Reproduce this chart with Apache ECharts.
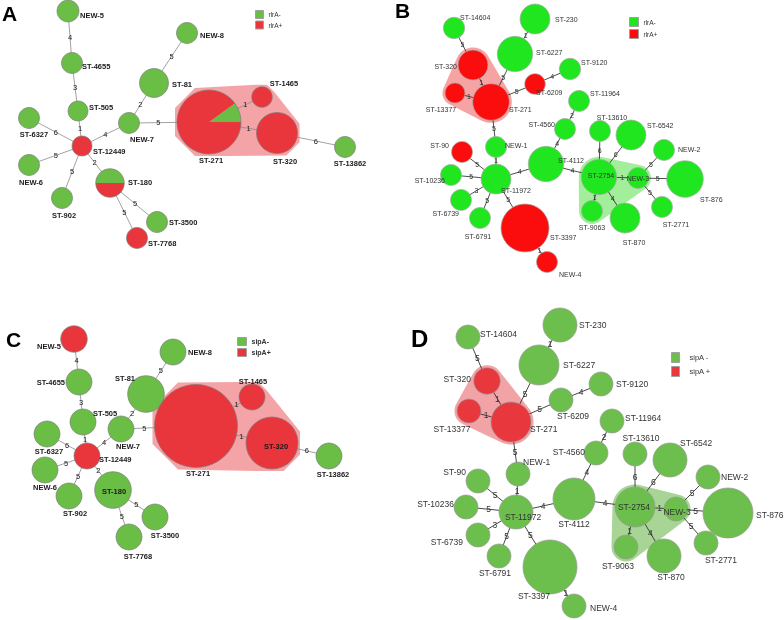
<!DOCTYPE html>
<html>
<head>
<meta charset="UTF-8">
<title>MST rlrA / sipA</title>
<style>
  html,body{margin:0;padding:0;background:#fff;}
  #chart{width:784px;height:620px;opacity:0.999;will-change:transform;}
</style>
</head>
<body>
<div id="chart"></div>
<script src="https://cdn.jsdelivr.net/npm/echarts@6.0.0/dist/echarts.min.js"></script>
<script>
// ---- data ----
// sequence types of the first tree (panels A, C)
var namesAC = ['NEW-5','ST-4655','ST-505','ST-12449','ST-6327','NEW-6','ST-902','ST-180','ST-3500',
  'ST-7768','NEW-7','ST-81','NEW-8','ST-271','ST-1465','ST-320','ST-13862'];
// share of positive isolates per ST
var rlrAShareA = [0,0,0,1,0,0,0,0.5,0,1,0,0,0,0.9,1,1,0];
var sipAShareC = [1,0,0,1,0,0,0,0,0,0,0,0,0,1,1,1,0];
// [from, to, allele differences]
var edgesAC = [['NEW-5','ST-4655',4],['ST-4655','ST-505',3],['ST-505','ST-12449',1],['ST-12449','ST-6327',6],
  ['ST-12449','NEW-6',5],['ST-12449','ST-902',5],['ST-12449','ST-180',2],['ST-180','ST-3500',5],
  ['ST-180','ST-7768',5],['ST-12449','NEW-7',4],['NEW-7','ST-81',2],['ST-81','NEW-8',5],
  ['NEW-7','ST-271',5],['ST-271','ST-1465',1],['ST-271','ST-320',1],['ST-320','ST-13862',6]];
var ccAC = [['ST-271','ST-1465','ST-320']];

// second tree (panels B, D)
var namesBD = ['ST-14604','ST-320','ST-13377','ST-271','ST-6227','ST-230','ST-6209','ST-9120','ST-11964',
  'ST-4560','ST-4112','NEW-1','ST-11972','ST-90','ST-10236','ST-6739','ST-6791','ST-3397','NEW-4',
  'ST-2754','ST-13610','ST-6542','NEW-3','NEW-2','ST-876','ST-2771','ST-9063','ST-870'];
var rlrAShareB = [0,1,1,1,0,0,1,0,0,0,0,0,0,1,0,0,0,1,1,0,0,0,0,0,0,0,0,0];
var sipAShareD = [0,1,1,1,0,0,0,0,0,0,0,0,0,0,0,0,0,0,0,0,0,0,0,0,0,0,0,0];
var edgesBD = [['ST-14604','ST-320',5],['ST-320','ST-271',1],['ST-13377','ST-271',1],['ST-271','ST-6227',5],
  ['ST-6227','ST-230',1],['ST-271','ST-6209',5],['ST-6209','ST-9120',4],['ST-271','NEW-1',5],
  ['NEW-1','ST-11972',1],['ST-90','ST-11972',5],['ST-10236','ST-11972',5],['ST-6739','ST-11972',3],
  ['ST-6791','ST-11972',5],['ST-11972','ST-3397',5],['ST-3397','NEW-4',1],['ST-11972','ST-4112',4],
  ['ST-4112','ST-4560',4],['ST-4560','ST-11964',2],['ST-4112','ST-2754',4],['ST-2754','ST-13610',6],
  ['ST-2754','ST-6542',6],['ST-2754','NEW-3',1],['ST-2754','ST-9063',1],['ST-2754','ST-870',4],
  ['NEW-3','NEW-2',5],['NEW-3','ST-876',5],['NEW-3','ST-2771',5]];
var ccBD = [['ST-320','ST-13377','ST-271'],['ST-2754','NEW-3','ST-9063']];

var legendRlrA = ['rlrA-','rlrA+'];
var legendSipAC = ['sipA-','sipA+'];
var legendSipAD = ['sipA -','sipA +'];

// ---- layout: [x, y, radius, label dx, label dy, align] ----
var layoutA = {
  'NEW-5':[68,11,11,12,4,'l'], 'ST-4655':[72,63,10.5,10,3,'l'], 'ST-505':[78,111,10,11,-4,'l'],
  'ST-12449':[82,146,10,11,5,'l'], 'ST-6327':[29,118,10.5,5,16,'c'], 'NEW-6':[29,165,10.5,2,17,'c'],
  'ST-902':[62,198,10.5,2,17,'c'], 'ST-180':[110,183,14.3,18,-1,'l'], 'ST-3500':[157,222,10.5,12,0,'l'],
  'ST-7768':[137,238,10.5,11,5,'l'], 'NEW-7':[129,123,10.5,13,16,'c'], 'ST-81':[154,83,14.5,18,1,'l'],
  'NEW-8':[187,33,10.5,13,2,'l'], 'ST-271':[209,122,32,2,38,'c'], 'ST-1465':[262,97,10.3,22,-14,'c'],
  'ST-320':[277,133,20.5,8,28,'c'], 'ST-13862':[345,147,10.5,5,16,'c']
};
var layoutC = {
  'NEW-5':[74,339,13.3,-13,7,'r'], 'ST-4655':[79,382,13,-14,0,'r'], 'ST-505':[83,422,13,10,-9,'l'],
  'ST-12449':[87,456,13,12,3,'l'], 'ST-6327':[47,434,13,2,17,'c'], 'NEW-6':[45,470,13,0,17,'c'],
  'ST-902':[69,496,13,6,17,'c'], 'ST-180':[113,490,18.3,1,1,'c'], 'ST-3500':[155,517,13,10,18,'c'],
  'ST-7768':[129,537,13,9,19,'c'], 'NEW-7':[121,429,13,7,17,'c'], 'ST-81':[146,394,18.3,-21,-16,'c'],
  'NEW-8':[173,352,13,15,0,'l'], 'ST-271':[196,426,41.5,2,47,'c'], 'ST-1465':[252,397,13,1,-16,'c'],
  'ST-320':[272,443,26,4,3,'c'], 'ST-13862':[329,456,13,4,18,'c']
};
var layoutB = {
  'ST-14604':[454,28,10.7,6,-11,'l'], 'ST-320':[473,65,15,-16,1,'r'], 'ST-13377':[455,93,10,-14,16,'c'],
  'ST-271':[491,102,18.3,18,7,'l'], 'ST-6227':[515,54,17.7,21,-2,'l'], 'ST-230':[535,19,15,20,0,'l'],
  'ST-6209':[535,84,10.3,1,8,'l'], 'ST-9120':[570,69,10.7,11,-7,'l'], 'ST-11964':[579,101,10.5,11,-8,'l'],
  'ST-4560':[565,129,10.5,-10,-5,'r'], 'ST-4112':[546,164,17.7,12,-4,'l'], 'NEW-1':[496,147,10.5,9,-2,'l'],
  'ST-11972':[496,179,15,5,11,'l'], 'ST-90':[462,152,10.5,-13,-7,'r'], 'ST-10236':[451,175,10.5,-6,5,'r'],
  'ST-6739':[461,200,10.5,-2,13,'r'], 'ST-6791':[480,218,10.5,-2,18,'c'], 'ST-3397':[525,228,24,25,9,'l'],
  'NEW-4':[547,262,10.5,12,12,'l'], 'ST-2754':[599,177,17.7,2,-2,'c'], 'ST-13610':[600,131,10.5,12,-14,'c'],
  'ST-6542':[631,135,15,16,-10,'l'], 'NEW-3':[638,178,10.5,0,0,'c'], 'NEW-2':[664,150,10.5,14,-1,'l'],
  'ST-876':[685,179,18.3,15,20,'l'], 'ST-2771':[662,207,10.5,14,17,'c'], 'ST-9063':[592,211,10.5,0,16,'c'],
  'ST-870':[625,218,15,9,24,'c']
};
var layoutD = {
  'ST-14604':[468,337,12,12,-3,'l'], 'ST-320':[487,381,13.3,-16,-2,'r'], 'ST-13377':[469,411,12,-17,18,'c'],
  'ST-271':[511,422,20,19,7,'l'], 'ST-6227':[539,365,20,24,0,'l'], 'ST-230':[560,325,17,19,0,'l'],
  'ST-6209':[561,400,12,12,16,'c'], 'ST-9120':[601,384,12,15,0,'l'], 'ST-11964':[612,421,12,13,-3,'l'],
  'ST-4560':[596,453,12,-11,-1,'r'], 'ST-4112':[574,499,21,0,25,'c'], 'NEW-1':[518,474,12,5,-12,'l'],
  'ST-11972':[516,512,17,7,5,'c'], 'ST-90':[478,481,12,-12,-9,'r'], 'ST-10236':[466,507,12,-12,-3,'r'],
  'ST-6739':[478,535,12,-15,7,'r'], 'ST-6791':[499,556,12,-4,17,'c'], 'ST-3397':[550,567,27,-16,29,'c'],
  'NEW-4':[574,606,12,16,2,'l'], 'ST-2754':[635,507,20,-1,0,'c'], 'ST-13610':[635,454,12,6,-16,'c'],
  'ST-6542':[670,460,17,10,-17,'l'], 'NEW-3':[676,509,12,1,3,'c'], 'NEW-2':[708,477,12,13,0,'l'],
  'ST-876':[728,513,25,28,2,'l'], 'ST-2771':[706,543,12,15,17,'c'], 'ST-9063':[626,547,12,-8,19,'c'],
  'ST-870':[664,556,17,7,21,'c']
};

var FONT = '"Liberation Sans", Arial, sans-serif';
// hullSides: how the clonal-complex outline hugs each node (8 = octagonal, 48 = round)
var styleAC = {neg:'#6abd45', pos:'#e8363c', hullPos:'#f4a4a7', hullNeg:'#a9d595', stroke:'#7d7d7d',
  edge:'#8a8a8a', edgeWidth:0.8, size:7.5, weight:'bold', edgeSize:7.5, text:'#1a1a1a', hullSides:8, hullPad:2};
var styleB = {neg:'#1fe61f', pos:'#fb0d0d', hullPos:'#f5a3a3', hullNeg:'#a3ee9b', stroke:'#aaaaaa',
  edge:'#222', edgeWidth:0.8, size:7, weight:'normal', edgeSize:7, text:'#333', hullSides:48, hullPad:2.5};
var styleD = {neg:'#6cbf4c', pos:'#e8373d', hullPos:'#f2a3a6', hullNeg:'#a8d595', stroke:'#9a9a9a',
  edge:'#333', edgeWidth:0.9, size:8.5, weight:'normal', edgeSize:8.5, text:'#333', hullSides:48, hullPad:2.5};

var panels = [
  {key:'A', names:namesAC, share:rlrAShareA, edges:edgesAC, groups:ccAC, layout:layoutA, st:styleAC,
   legend:legendRlrA, lg:{left:255, top:10, w:8, h:8, gap:1.5, size:6.5, weight:'normal', pad:0}, title:[2,3,21]},
  {key:'B', names:namesBD, share:rlrAShareB, edges:edgesBD, groups:ccBD, layout:layoutB, st:styleB,
   legend:legendRlrA, lg:{left:629, top:17, w:9, h:9, gap:2, size:6.5, weight:'normal', pad:0}, title:[395,0,21]},
  {key:'C', names:namesAC, share:sipAShareC, edges:edgesAC, groups:ccAC, layout:layoutC, st:styleAC,
   legend:legendSipAC, lg:{left:237, top:337, w:9, h:8, gap:2, size:7, weight:'bold', pad:0}, title:[6,329,21]},
  {key:'D', names:namesBD, share:sipAShareD, edges:edgesBD, groups:ccBD, layout:layoutD, st:styleD,
   legend:legendSipAD, lg:{left:671, top:352, w:8, h:10, gap:3, size:7.5, weight:'normal', pad:5}, title:[411,326,24]}
];

function convexHull(pts) {
  pts.sort(function (a, b) { return a[0] - b[0] || a[1] - b[1]; });
  function cross(o, a, b) { return (a[0]-o[0])*(b[1]-o[1]) - (a[1]-o[1])*(b[0]-o[0]); }
  var lower = [], upper = [];
  pts.forEach(function (p) {
    while (lower.length >= 2 && cross(lower[lower.length-2], lower[lower.length-1], p) <= 0) lower.pop();
    lower.push(p);
  });
  for (var i = pts.length - 1; i >= 0; i--) {
    var p = pts[i];
    while (upper.length >= 2 && cross(upper[upper.length-2], upper[upper.length-1], p) <= 0) upper.pop();
    upper.push(p);
  }
  upper.pop(); lower.pop();
  return lower.concat(upper);
}

function textEl(x, y, str, st, size, weight, align) {
  return {type:'text', x:x, y:y, z2:10, style:{text:str, fill:st.text, fontSize:size, fontWeight:weight,
    fontFamily:FONT, align:align, verticalAlign:'middle'}};
}

var series = [];
var legends = [];
var titles = [];

panels.forEach(function (p) {
  var L = p.layout, st = p.st;
  var idx = {};
  p.names.forEach(function (n, i) { idx[n] = i; });

  // clonal complex hulls
  series.push({
    type:'custom', name:p.key + ' cc', coordinateSystem:'cartesian2d', z:1, silent:true,
    data:p.groups.map(function (g) { return [L[g[0]][0], L[g[0]][1]]; }),
    renderItem:function (params, api) {
      var g = p.groups[params.dataIndex], pts = [], mean = 0, k = st.hullSides;
      var off = Math.PI / k, grow = 1 / Math.cos(Math.PI / k);
      g.forEach(function (n) {
        var c = api.coord([L[n][0], L[n][1]]), r = (L[n][2] + st.hullPad) * grow;
        mean += p.share[idx[n]] / g.length;
        for (var j = 0; j < k; j++) {
          var a = off + j / k * Math.PI * 2;
          pts.push([c[0] + r * Math.cos(a), c[1] + r * Math.sin(a)]);
        }
      });
      return {type:'polygon', shape:{points:convexHull(pts)},
        style:{fill: mean > 0.5 ? st.hullPos : st.hullNeg}};
    }
  });

  // tree edges with allele-difference labels
  series.push({
    type:'custom', name:p.key + ' links', coordinateSystem:'cartesian2d', z:2, silent:true,
    data:p.edges.map(function (e) { return [L[e[0]][0], L[e[0]][1], L[e[1]][0], L[e[1]][1], e[2]]; }),
    renderItem:function (params, api) {
      var e = p.edges[params.dataIndex];
      var p1 = api.coord([api.value(0), api.value(1)]), p2 = api.coord([api.value(2), api.value(3)]);
      var dx = p2[0] - p1[0], dy = p2[1] - p1[1], d = Math.sqrt(dx*dx + dy*dy);
      var r1 = L[e[0]][2], r2 = L[e[1]][2];
      var t = (r1 + (d - r1 - r2) / 2) / d;
      return {type:'group', children:[
        {type:'line', shape:{x1:p1[0], y1:p1[1], x2:p2[0], y2:p2[1]}, style:{stroke:st.edge, lineWidth:st.edgeWidth}},
        textEl(p1[0] + dx*t, p1[1] + dy*t, String(api.value(4)), st, st.edgeSize, 'normal', 'center')
      ]};
    }
  });

  // negative / positive parts of each node
  [0, 1].forEach(function (pos) {
    var list = [];
    p.names.forEach(function (n, i) {
      if (pos ? p.share[i] > 0 : p.share[i] < 1) list.push([L[n][0], L[n][1], i]);
    });
    series.push({
      type:'custom', name:p.legend[pos], coordinateSystem:'cartesian2d', z:3,
      itemStyle:{color: pos ? st.pos : st.neg},
      data:list,
      renderItem:function (params, api) {
        var i = api.value(2), n = p.names[i], c = api.coord([api.value(0), api.value(1)]);
        var r = L[n][2], s = p.share[i], negA = (1 - s) * Math.PI * 2;
        var fill = pos ? st.pos : st.neg;
        if (s === 0 || s === 1) {
          return {type:'circle', shape:{cx:c[0], cy:c[1], r:r}, style:{fill:fill}};
        }
        var sa = pos ? 0 : -negA, ea = pos ? Math.PI * 2 - negA : 0;
        return {type:'sector', shape:{cx:c[0], cy:c[1], r0:0, r:r, startAngle:sa, endAngle:ea, clockwise:true},
          style:{fill:fill}};
      }
    });
  });

  // outlines and ST labels
  series.push({
    type:'custom', name:p.key + ' labels', coordinateSystem:'cartesian2d', z:4, silent:true,
    data:p.names.map(function (n) { return [L[n][0], L[n][1]]; }),
    renderItem:function (params, api) {
      var n = p.names[params.dataIndex], c = api.coord([api.value(0), api.value(1)]), l = L[n];
      var al = l[5] === 'l' ? 'left' : (l[5] === 'r' ? 'right' : 'center');
      return {type:'group', children:[
        {type:'circle', shape:{cx:c[0], cy:c[1], r:l[2]}, style:{fill:'none', stroke:st.stroke, lineWidth:0.7}},
        textEl(c[0] + l[3], c[1] + l[4], n, st, st.size, st.weight, al)
      ]};
    }
  });

  legends.push({
    left:p.lg.left, top:p.lg.top, orient:'vertical', padding:0, icon:'rect', selectedMode:false,
    itemWidth:p.lg.w, itemHeight:p.lg.h, itemGap:p.lg.gap,
    textStyle:{fontSize:p.lg.size, fontWeight:p.lg.weight, color:'#333', fontFamily:FONT, padding:[0,0,0,p.lg.pad]},
    data:[
      {name:p.legend[0], itemStyle:{color:st.neg, borderColor:'#a0a0a0', borderWidth:1}},
      {name:p.legend[1], itemStyle:{color:st.pos, borderColor:'#a0a0a0', borderWidth:1}}
    ]
  });

  titles.push({text:p.key, left:p.title[0], top:p.title[1], padding:0,
    textStyle:{fontSize:p.title[2], fontWeight:'bold', color:'#000', fontFamily:FONT}});
});

var chart = echarts.init(document.getElementById('chart'), null, {renderer:'svg'});
chart.setOption({
  animation:false,
  backgroundColor:'#fff',
  title:titles,
  legend:legends,
  grid:{left:0, right:0, top:0, bottom:0},
  xAxis:{type:'value', min:0, max:784, show:false},
  yAxis:{type:'value', min:0, max:620, inverse:true, show:false},
  series:series
});
</script>
</body>
</html>
